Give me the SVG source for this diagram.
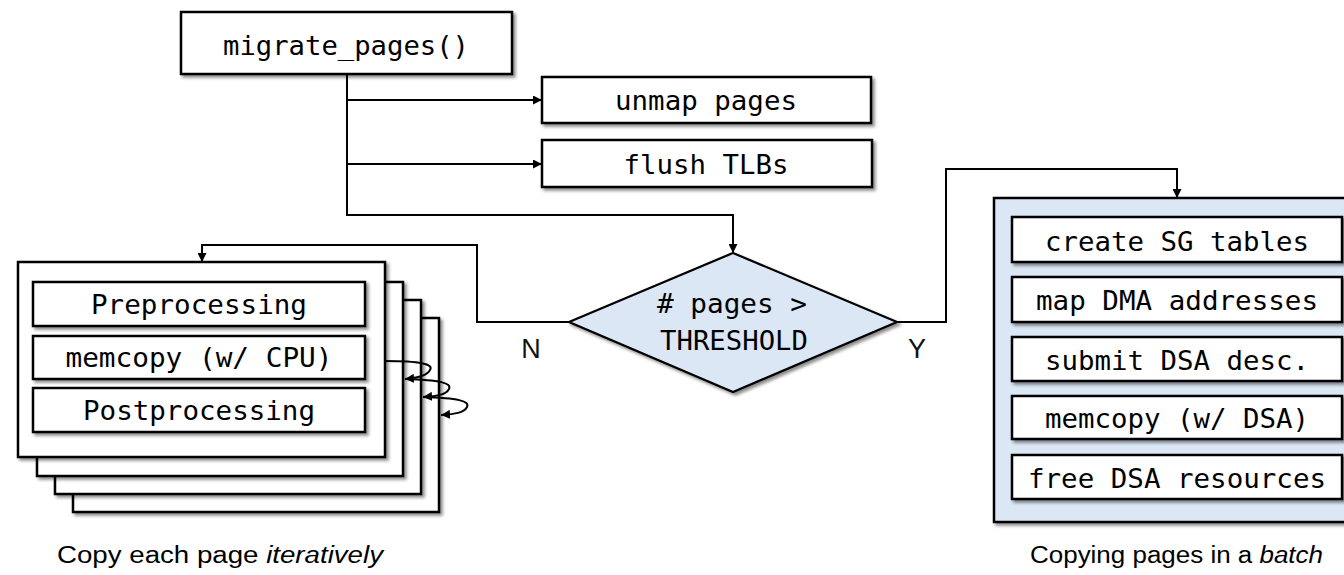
<svg xmlns="http://www.w3.org/2000/svg" width="1344" height="575" viewBox="0 0 1344 575">
  <defs>
    <filter id="shadow" x="-10%" y="-10%" width="130%" height="140%">
      <feDropShadow dx="2.5" dy="2.5" stdDeviation="1.6" flood-color="#000" flood-opacity="0.45"/>
    </filter>
    <marker id="arrow" viewBox="0 0 10 10" refX="10" refY="5" markerWidth="9" markerHeight="9" markerUnits="userSpaceOnUse" orient="auto">
      <path d="M0,0 L10,5 L0,10 z" fill="#000"/>
    </marker>
  </defs>
  <style>
    .box { fill: #fff; stroke: #000; stroke-width: 2.5; filter: url(#shadow); }
    .panel { fill: #dbe7f4; stroke: #000; stroke-width: 2.5; filter: url(#shadow); }
    .code { font-family: "DejaVu Sans Mono", "Liberation Mono", monospace; font-size: 26.5px; fill: #000; text-anchor: middle; }
    .label { font-family: "Liberation Sans", Arial, sans-serif; font-size: 27px; fill: #111; text-anchor: middle; }
    .caption { font-family: "Liberation Sans", Arial, sans-serif; font-size: 23px; fill: #000; }
    .wire { fill: none; stroke: #000; stroke-width: 2; }
  </style>
  <rect width="1344" height="575" fill="#fff"/>

  <!-- connectors -->
  <g id="connectors">
    <path class="wire" d="M347,74 V215 H733 V253" marker-end="url(#arrow)"/>
    <path class="wire" d="M347,100 H542" marker-end="url(#arrow)"/>
    <path class="wire" d="M347,164 H542" marker-end="url(#arrow)"/>
    <path class="wire" d="M569,322 H477 V245 H202 V262" marker-end="url(#arrow)"/>
    <path class="wire" d="M897,322 H946 V169 H1177 V198" marker-end="url(#arrow)"/>
  </g>

  <!-- entry call -->
  <g id="migrate-pages">
    <rect class="box" x="181" y="12" width="331" height="62"/>
    <text class="code" x="346" y="55" textLength="246" lengthAdjust="spacingAndGlyphs">migrate_pages()</text>
  </g>
  <g id="unmap-pages">
    <rect class="box" x="542" y="77" width="329" height="46"/>
    <text class="code" x="706" y="110" textLength="182" lengthAdjust="spacingAndGlyphs">unmap pages</text>
  </g>
  <g id="flush-tlbs">
    <rect class="box" x="542" y="140" width="330" height="47"/>
    <text class="code" x="706" y="174" textLength="165" lengthAdjust="spacingAndGlyphs">flush TLBs</text>
  </g>

  <!-- threshold decision -->
  <g id="decision">
    <polygon points="733,253 897,322 733,392 569,322" fill="#dbe7f4" stroke="#000" stroke-width="2.2" filter="url(#shadow)"/>
    <text class="code" x="732" y="313" textLength="150" lengthAdjust="spacingAndGlyphs"># pages &gt;</text>
    <text class="code" x="734" y="350" textLength="148" lengthAdjust="spacingAndGlyphs">THRESHOLD</text>
  </g>
  <text class="label" x="531" y="358">N</text>
  <text class="label" x="917" y="358">Y</text>

  <!-- per-page CPU copy, stacked -->
  <g id="cpu-copy">
    <rect class="box" x="73" y="318" width="366" height="194"/>
    <rect class="box" x="55" y="300" width="366" height="194"/>
    <rect class="box" x="37" y="282" width="366" height="194"/>
    <rect class="box" x="18" y="262" width="367" height="195"/>
    <g id="preprocessing">
      <rect class="box" x="33" y="282" width="332" height="44"/>
      <text class="code" x="199" y="314" textLength="216" lengthAdjust="spacingAndGlyphs">Preprocessing</text>
    </g>
    <g id="memcopy-cpu">
      <rect class="box" x="33" y="336" width="332" height="43"/>
      <text class="code" x="199" y="367" textLength="267" lengthAdjust="spacingAndGlyphs">memcopy (w/ CPU)</text>
    </g>
    <g id="postprocessing">
      <rect class="box" x="33" y="388" width="332" height="44"/>
      <text class="code" x="199" y="420" textLength="232" lengthAdjust="spacingAndGlyphs">Postprocessing</text>
    </g>
    <g id="loop-arrows">
      <path class="wire" d="M385,361 C420,361 434,364 430,370 C427,376 418,378 405,379" marker-end="url(#arrow)"/>
      <path class="wire" d="M405,379 C440,380 452,383 449,389 C446,395 437,396 423,397" marker-end="url(#arrow)"/>
      <path class="wire" d="M423,397 C458,398 470,401 467,407 C464,413 455,414 441,415" marker-end="url(#arrow)"/>
    </g>
  </g>

  <!-- batched DSA copy -->
  <g id="dsa-copy">
    <rect class="panel" x="994" y="198" width="370" height="324"/>
    <g id="create-sg">
      <rect class="box" x="1012" y="217" width="330" height="45"/>
      <text class="code" x="1177" y="251" textLength="264" lengthAdjust="spacingAndGlyphs">create SG tables</text>
    </g>
    <g id="map-dma">
      <rect class="box" x="1012" y="277" width="330" height="45"/>
      <text class="code" x="1177" y="310" textLength="282" lengthAdjust="spacingAndGlyphs">map DMA addresses</text>
    </g>
    <g id="submit-desc">
      <rect class="box" x="1012" y="337" width="330" height="44"/>
      <text class="code" x="1177" y="370" textLength="264" lengthAdjust="spacingAndGlyphs">submit DSA desc.</text>
    </g>
    <g id="memcopy-dsa">
      <rect class="box" x="1012" y="396" width="330" height="43"/>
      <text class="code" x="1177" y="428" textLength="264" lengthAdjust="spacingAndGlyphs">memcopy (w/ DSA)</text>
    </g>
    <g id="free-resources">
      <rect class="box" x="1012" y="455" width="330" height="44"/>
      <text class="code" x="1177" y="488" textLength="298" lengthAdjust="spacingAndGlyphs">free DSA resources</text>
    </g>
  </g>

  <!-- captions -->
  <text class="caption" x="57" y="563" textLength="326" lengthAdjust="spacingAndGlyphs">Copy each page <tspan font-style="italic">iteratively</tspan></text>
  <text class="caption" x="1030" y="563" textLength="293" lengthAdjust="spacingAndGlyphs">Copying pages in a <tspan font-style="italic">batch</tspan></text>
</svg>
